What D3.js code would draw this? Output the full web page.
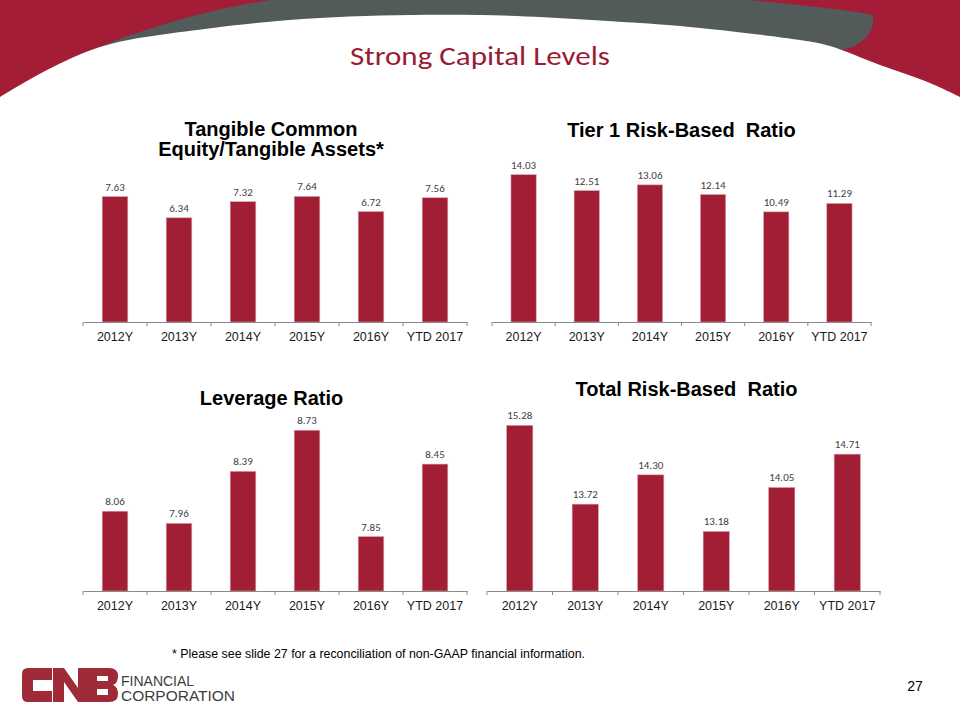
<!DOCTYPE html>
<html>
<head>
<meta charset="utf-8">
<script src="https://cdn.jsdelivr.net/npm/d3@7"></script>
<style>
  html, body { margin: 0; padding: 0; background: #ffffff; }
  svg { display: block; }
</style>
</head>
<body>
<svg id="slide" width="960" height="720"></svg>
<script>
// ---------------- DATA ----------------
const categories = ["2012Y", "2013Y", "2014Y", "2015Y", "2016Y", "YTD 2017"];
const tceValues = [7.63, 6.34, 7.32, 7.64, 6.72, 7.56];
const tier1Values = [14.03, 12.51, 13.06, 12.14, 10.49, 11.29];
const leverageValues = [8.06, 7.96, 8.39, 8.73, 7.85, 8.45];
const totalRiskValues = [15.28, 13.72, 14.30, 13.18, 14.05, 14.71];
const chartTitles = [
  ["Tangible Common", "Equity/Tangible Assets*"],
  ["Tier 1 Risk-Based  Ratio"],
  ["Leverage Ratio"],
  ["Total Risk-Based  Ratio"]
];
const slideTitle = "Strong Capital Levels";
const footnote = "* Please see slide 27 for a reconciliation of non-GAAP financial information.";
const pageNumber = "27";

// ---------------- STYLE ----------------
const RED = "#a31d36";
const BAR = "#a21e35";
const GRAY = "#535a5a";
const svg = d3.select("#slide");

// ---------------- HEADER ----------------
const edge = [[0,97],[53,67],[107,45],[213,28],[320,18],[480,15],[640,23],[700,28],[800,40],[830,46],[880,65],[930,83],[960,97]];
const edgeLine = d3.line().curve(d3.curveCatmullRom.alpha(0.5));
svg.append("rect").attr("x",0).attr("y",0).attr("width",960).attr("height",130).attr("fill",RED);
svg.append("path").attr("fill",GRAY)
  .attr("d","M53,67 C120,35 200,10 270,0 L750,0 C800,5 850,10 873,15 C876,35 858,50 830,52 L830,200 L53,200 Z");
svg.append("path").attr("fill","#ffffff")
  .attr("d", edgeLine(edge) + " L960,200 L0,200 Z");

svg.append("text").attr("x",480).attr("y",65).attr("text-anchor","middle")
  .attr("font-family","Carlito, Lato, 'Open Sans', sans-serif").attr("font-size",27)
  .attr("fill","#9b1b32").attr("textLength",260).attr("lengthAdjust","spacingAndGlyphs")
  .text(slideTitle);

// ---------------- CHARTS ----------------
const charts = [
  {values: tceValues, title: chartTitles[0], x0: 83, x1: 467, base: 322, top: 174.1, domain: [0, 9], tx: 271, ty: 136},
  {values: tier1Values, title: chartTitles[1], x0: 492, x1: 871, base: 322, top: 154, domain: [0, 16], tx: 681.5, ty: 137},
  {values: leverageValues, title: chartTitles[2], x0: 83, x1: 467, base: 591, top: 397.6, domain: [7.4, 9.0], tx: 271.5, ty: 405},
  {values: totalRiskValues, title: chartTitles[3], x0: 487, x1: 880, base: 591, top: 389, domain: [12, 16], tx: 686.5, ty: 396}
];
const fmt = d3.format(".2f");

charts.forEach(c => {
  const g = svg.append("g");
  const x = d3.scaleBand().domain(categories).range([c.x0, c.x1]).paddingInner(0.6).paddingOuter(0.3);
  const y = d3.scaleLinear().domain(c.domain).range([c.base, c.top]);

  // bars
  g.selectAll("rect.bar").data(c.values).join("rect")
    .attr("class","bar")
    .attr("x",(d,i) => x(categories[i]))
    .attr("width", x.bandwidth())
    .attr("y", d => y(d))
    .attr("height", d => y(c.domain[0]) - y(d))
    .attr("fill", BAR)
    .attr("stroke","#d9a0aa").attr("stroke-width",0.6);

  // value labels
  g.selectAll("text.val").data(c.values).join("text")
    .attr("class","val")
    .attr("x",(d,i) => x(categories[i]) + x.bandwidth()/2)
    .attr("y", d => y(d) - 6)
    .attr("text-anchor","middle")
    .attr("font-family","Carlito, Lato, 'Open Sans', sans-serif")
    .attr("font-size",11)
    .attr("fill","#404040")
    .text(d => fmt(d));

  // axis
  const axis = d3.axisBottom(x).tickSize(0).tickPadding(10);
  const ag = g.append("g").attr("transform",`translate(0,${c.base})`).call(axis);
  ag.select(".domain").attr("stroke","#8a8a8a").attr("stroke-width",1);
  ag.selectAll("text").attr("font-family","'Liberation Sans', Arial, sans-serif")
    .attr("font-size",12.5).attr("fill","#1a1a1a");
  // category boundary tick marks
  const bounds = d3.range(categories.length + 1).map(i => c.x0 + i * x.step());
  g.selectAll("line.tk").data(bounds).join("line")
    .attr("class","tk")
    .attr("x1", d => d).attr("x2", d => d)
    .attr("y1", c.base).attr("y2", c.base + 4)
    .attr("stroke","#8a8a8a").attr("stroke-width",1);

  // title
  const t = g.append("text").attr("text-anchor","middle")
    .attr("font-family","'Liberation Sans', Arial, sans-serif")
    .attr("font-weight","bold").attr("font-size",20).attr("fill","#000")
    .attr("xml:space","preserve");
  c.title.forEach((line, i) => {
    t.append("tspan").attr("x", c.tx).attr("y", c.ty + i * 20).text(line);
  });
  if (c.title.length > 1) {
    t.selectAll("tspan").attr("y",(d,i,n) => c.ty + i*20);
  }
});

// ---------------- FOOTER ----------------
svg.append("text").attr("x",172).attr("y",658)
  .attr("font-family","'Liberation Sans', Arial, sans-serif").attr("font-size",12)
  .attr("fill","#000").attr("textLength",413).attr("lengthAdjust","spacingAndGlyphs")
  .text(footnote);

svg.append("text").attr("x",915).attr("y",691).attr("text-anchor","middle")
  .attr("font-family","'Liberation Sans', Arial, sans-serif").attr("font-size",14)
  .attr("fill","#000").text(pageNumber);

// logo
const logo = svg.append("g").attr("fill","#9e2b37");
logo.append("path").attr("fill-rule","evenodd")
  .attr("d","M28,668 H52 V680 H33 V691 H52 V702 H28 Q22,702 22,696 V674 Q22,668 28,668 Z");
logo.append("path")
  .attr("d","M53,668 H64 L78,688 V668 H89 V702 H78 L64,682 V702 H53 Z");
logo.append("path").attr("fill-rule","evenodd")
  .attr("d","M88,668 H109 Q118,668 118,676 Q118,683 113,685 Q118,687 118,694 Q118,702 109,702 H88 Z M97,676 H108 V681 H97 Z M97,689 H108 V695 H97 Z");
svg.append("text").attr("x",121).attr("y",686)
  .attr("font-family","'Liberation Sans', Arial, sans-serif").attr("font-size",14)
  .attr("fill","#3d3d3d").text("FINANCIAL");
svg.append("text").attr("x",121).attr("y",701)
  .attr("font-family","'Liberation Sans', Arial, sans-serif").attr("font-size",14)
  .attr("fill","#3d3d3d").attr("textLength",114).attr("lengthAdjust","spacingAndGlyphs")
  .text("CORPORATION");
</script>
</body>
</html>
